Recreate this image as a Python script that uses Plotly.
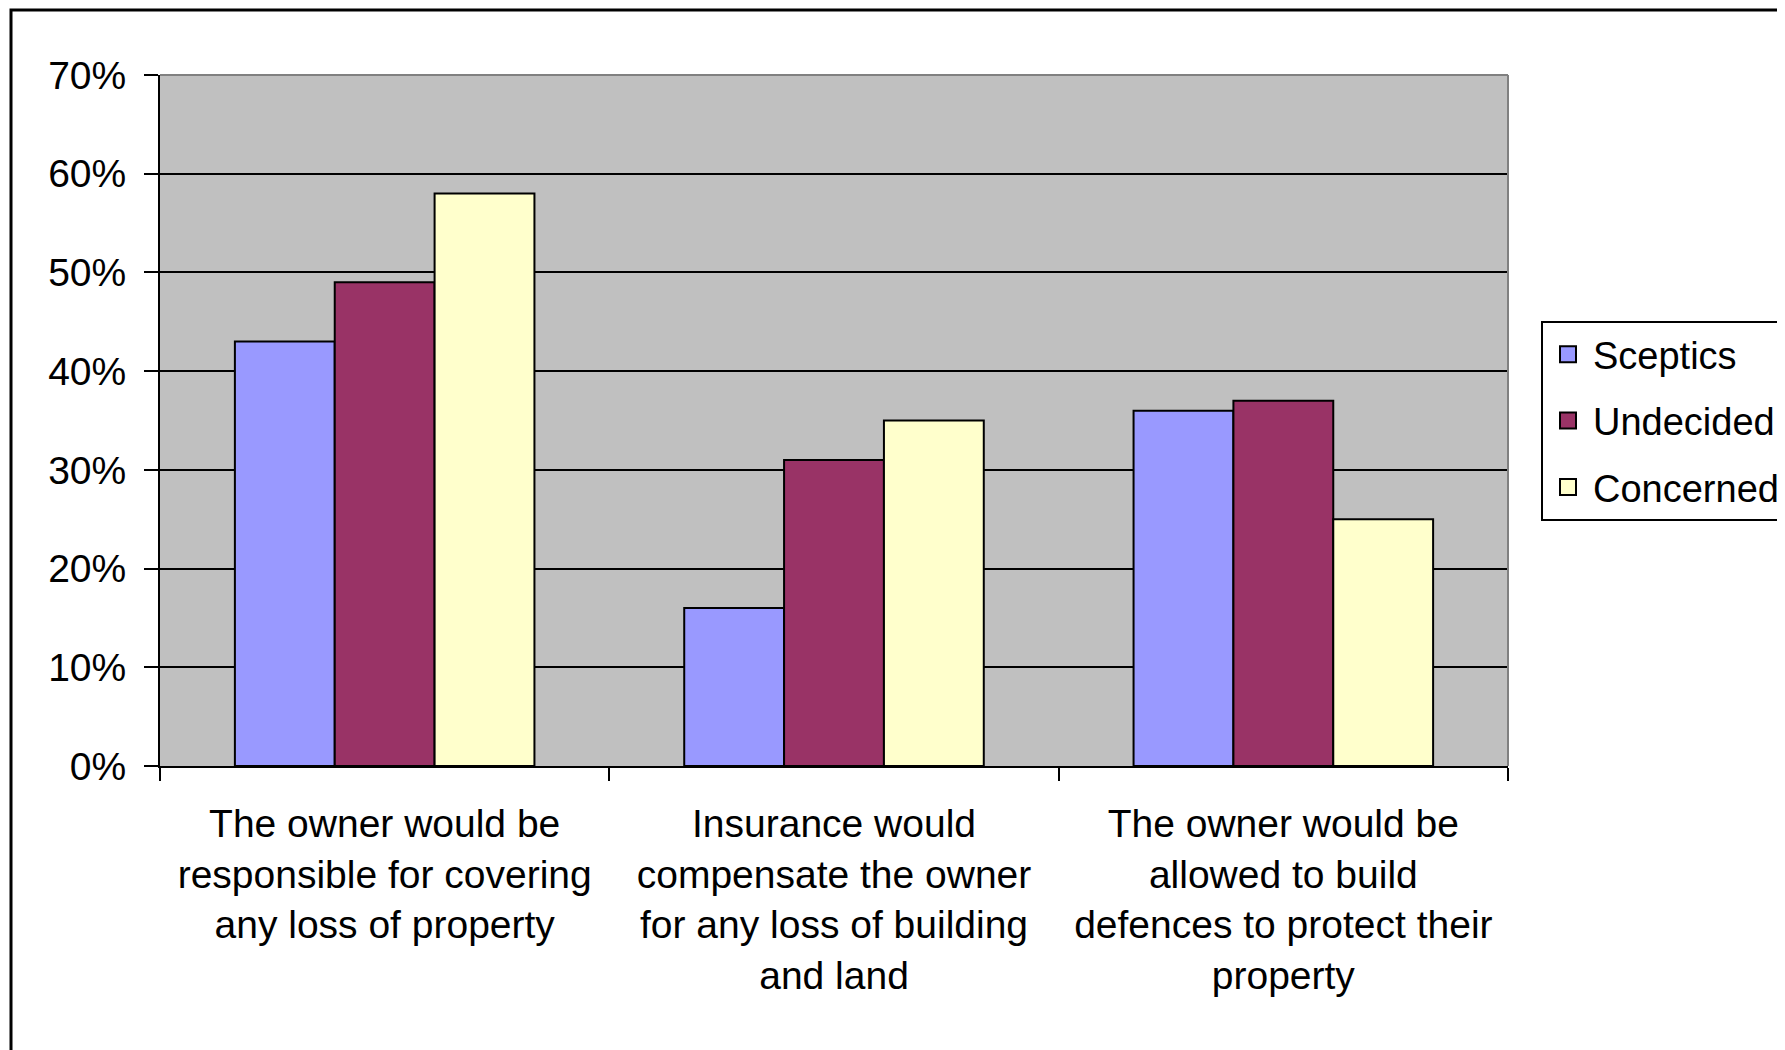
import plotly.graph_objects as go

categories = [
    "The owner would be<br>responsible for covering<br>any loss of property",
    "Insurance would<br>compensate the owner<br>for any loss of building<br>and land",
    "The owner would be<br>allowed to build<br>defences to protect their<br>property",
]
sceptics = [43, 16, 36]
undecided = [49, 31, 37]
concerned = [58, 35, 25]
series_names = ["Sceptics", "Undecided", "Concerned"]
series_colors = ["#9999FF", "#993366", "#FFFFCC"]
y_ticks = [0, 10, 20, 30, 40, 50, 60, 70]
y_tick_text = [f"{v}%" for v in y_ticks]

W, H = 1785, 1050
OFF = 8  # page body margin offset
# target screen positions of the plot area
PL, PR, PT, PB = 160, 1508, 75, 766
ML, MT = PL - OFF, PT - OFF
MR = W - (PR - OFF)
MB = H - (PB - OFF)
PW, PH = W - ML - MR, H - MT - MB


def px_x(x):
    return (x - OFF - ML) / PW


def px_y(y):
    return (H - MB - (y - OFF)) / PH


FONT = "Liberation Sans, Arial, sans-serif"

fig = go.Figure()
for i, (name, vals, col) in enumerate(zip(series_names, [sceptics, undecided, concerned], series_colors)):
    fig.add_trace(go.Bar(
        name=name, x=categories, y=vals,
        marker=dict(color=col, line=dict(color="black", width=2)),
        showlegend=False,
    ))
# legend entries (square swatches)
for i, (name, col) in enumerate(zip(series_names, series_colors)):
    fig.add_trace(go.Scatter(
        name=name, x=[None], y=[None], mode="markers",
        marker=dict(symbol="square", size=16, color=col, line=dict(color="black", width=2)),
        legendgroup=f"g{i}", showlegend=True, hoverinfo="skip",
    ))

fig.update_layout(
    width=W, height=H,
    margin=dict(l=ML, r=MR, t=MT, b=MB, autoexpand=False),
    paper_bgcolor="white",
    plot_bgcolor="#C0C0C0",
    barmode="group",
    bargap=1/3,
    bargroupgap=0,
    font=dict(family=FONT, size=39, color="black"),
    legend=dict(
        x=px_x(1541), y=px_y(321), xanchor="left", yanchor="top",
        bgcolor="white", bordercolor="black", borderwidth=2,
        font=dict(family=FONT, size=38, color="black"),
        tracegroupgap=14, itemwidth=40,
    ),
    showlegend=True,
)

fig.update_xaxes(
    showline=True, linecolor="black", linewidth=2,
    ticks="outside", tickson="boundaries", ticklen=13, tickwidth=2, tickcolor="black",
    showgrid=False, zeroline=False,
    tickfont=dict(family=FONT, size=39, color="black"),
    ticklabelstandoff=22,
)
fig.update_yaxes(
    range=[0, 70], tickvals=y_ticks, ticktext=y_tick_text,
    showline=True, linecolor="black", linewidth=2,
    ticks="outside", ticklen=14, tickwidth=2, tickcolor="black",
    showgrid=True, gridcolor="black", gridwidth=2, zeroline=False,
    tickfont=dict(family=FONT, size=39, color="black"),
    ticklabelstandoff=10,
)

# plot-area border (gray, top and right)
fig.add_shape(type="line", xref="x domain", yref="y domain", x0=0, x1=1, y0=1, y1=1,
              line=dict(color="#808080", width=2), layer="above")
fig.add_shape(type="line", xref="x domain", yref="y domain", x0=1, x1=1, y0=0, y1=1,
              line=dict(color="#808080", width=2), layer="above")
# chart-area outer border (cropped at right and bottom)
fig.add_shape(type="rect", xref="paper", yref="paper",
              x0=px_x(11), x1=px_x(W + 50), y0=px_y(H + 50), y1=px_y(10),
              line=dict(color="black", width=3), fillcolor="rgba(0,0,0,0)", layer="above")
# faint artifact line at top-left
fig.add_shape(type="line", xref="paper", yref="paper",
              x0=px_x(8), y0=px_y(0), x1=px_x(0), y1=px_y(110),
              line=dict(color="#c8c8c8", width=1), layer="above")

fig.write_html("out.html")
